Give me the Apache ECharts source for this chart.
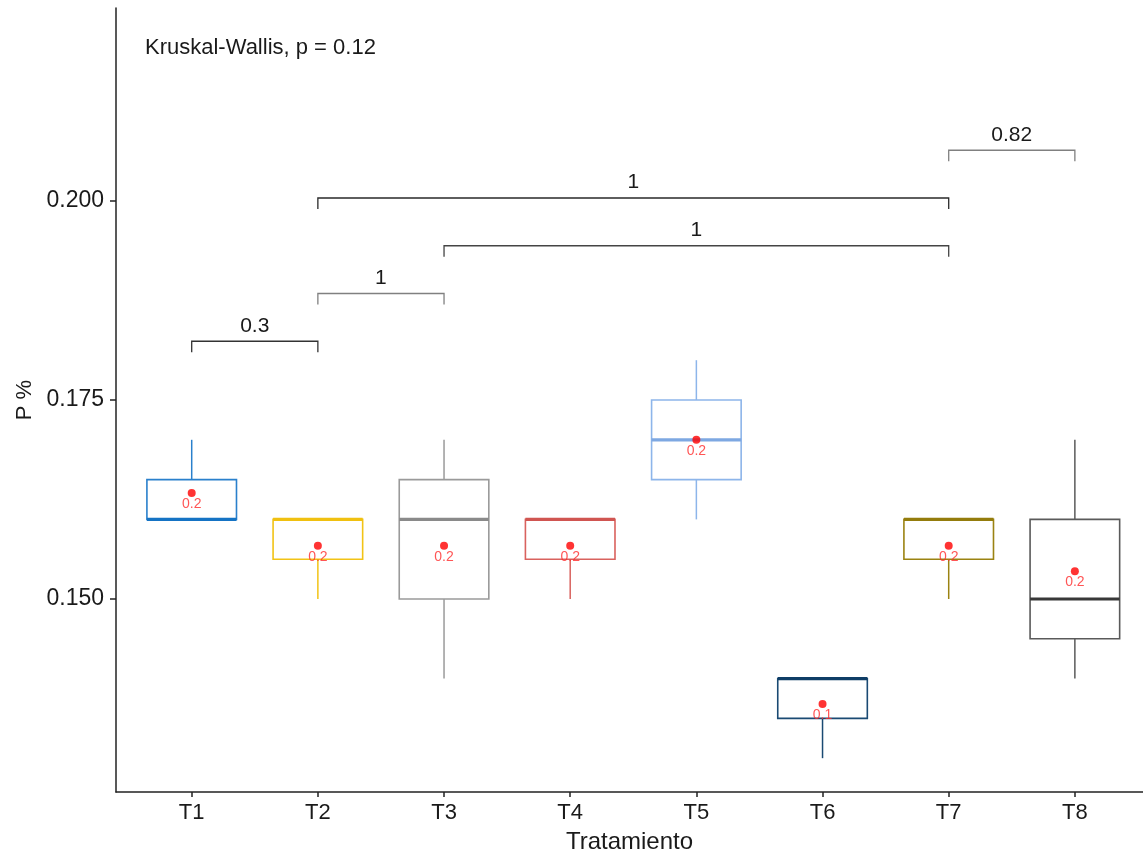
<!DOCTYPE html>
<html>
<head>
<meta charset="utf-8">
<script src="https://cdn.jsdelivr.net/npm/echarts@6/dist/echarts.min.js"></script>
<style>
  html, body { margin: 0; padding: 0; background: #fff; }
  #chart { width: 1143px; height: 859px; }
</style>
</head>
<body>
<div id="chart"></div>
<script>
// Treatments on the x axis (positions 1..8)
const categories = ['T1', 'T2', 'T3', 'T4', 'T5', 'T6', 'T7', 'T8'];

// Box statistics per treatment: lower whisker, Q1, median, Q3, upper whisker
const whiskerLow  = [0.160, 0.150, 0.140, 0.150, 0.160, 0.130, 0.150, 0.140];
const quartile1   = [0.160, 0.155, 0.150, 0.155, 0.165, 0.135, 0.155, 0.145];
const medians     = [0.160, 0.160, 0.160, 0.160, 0.170, 0.140, 0.160, 0.150];
const quartile3   = [0.165, 0.160, 0.165, 0.160, 0.175, 0.140, 0.160, 0.160];
const whiskerHigh = [0.170, 0.160, 0.170, 0.160, 0.180, 0.140, 0.160, 0.170];

// Group means (red dots, labelled to one decimal)
const means = [0.1633, 0.1567, 0.1567, 0.1567, 0.1700, 0.1368, 0.1567, 0.1535];

// Pairwise comparisons: from group, to group, bracket height, p-value label
const pairFrom   = [1, 2, 3, 2, 7];
const pairTo     = [2, 3, 7, 7, 8];
const pairY      = [0.18238, 0.18838, 0.19438, 0.20038, 0.20638];
const pairLabels = ['0.3', '1', '1', '1', '0.82'];

// Y axis tick values
const yTicks = [0.150, 0.175, 0.200];

const globalTest = 'Kruskal-Wallis, p = 0.12';

// Styling
const boxColors    = ['#2a80cc', '#f2c316', '#9a9a9a', '#d9625e', '#8db5ea', '#1a4a73', '#9b8312', '#5a5a5a'];
const medianColors = ['#1573c4', '#f0c010', '#8a8a8a', '#d05551', '#7ea8e2', '#0f3d66', '#947c0c', '#383838'];
const pairColors   = ['#333333', '#808080', '#444444', '#2a2a2a', '#808080'];
const FONT = '"Liberation Sans", Arial, Helvetica, sans-serif';

const positions = categories.map((_, i) => i + 1);
const boxData = positions.map((x, i) => [x, whiskerLow[i], quartile1[i], medians[i], quartile3[i], whiskerHigh[i]]);
const meanData = positions.map((x, i) => [x, means[i]]);
const pairData = pairFrom.map((f, i) => [f, pairTo[i], pairY[i]]);

const BOX_HALF = 0.355;

function renderBox(params, api) {
  const i = params.dataIndex;
  const x = api.value(0);
  const lo = api.value(1), q1 = api.value(2), med = api.value(3), q3 = api.value(4), hi = api.value(5);
  const color = boxColors[i];
  const tl = api.coord([x - BOX_HALF, q3]);
  const br = api.coord([x + BOX_HALF, q1]);
  const cx = api.coord([x, q1])[0];
  const yLo = api.coord([x, lo])[1];
  const yQ1 = br[1];
  const yQ3 = tl[1];
  const yHi = api.coord([x, hi])[1];
  const yMed = api.coord([x, med])[1];
  const children = [];
  if (hi > q3) {
    children.push({ type: 'line', shape: { x1: cx, y1: yQ3, x2: cx, y2: yHi }, style: { stroke: color, lineWidth: 1.5 } });
  }
  if (lo < q1) {
    children.push({ type: 'line', shape: { x1: cx, y1: yQ1, x2: cx, y2: yLo }, style: { stroke: color, lineWidth: 1.5 } });
  }
  children.push({
    type: 'rect',
    shape: { x: tl[0], y: tl[1], width: br[0] - tl[0], height: br[1] - tl[1] },
    style: { fill: '#ffffff', stroke: color, lineWidth: 1.6 }
  });
  children.push({
    type: 'line',
    shape: { x1: tl[0], y1: yMed, x2: br[0], y2: yMed },
    style: { stroke: medianColors[i], lineWidth: 3.2 }
  });
  return { type: 'group', children };
}

function renderPair(params, api) {
  const i = params.dataIndex;
  const p1 = api.coord([api.value(0), api.value(2)]);
  const p2 = api.coord([api.value(1), api.value(2)]);
  const tick = 11;
  const color = pairColors[i];
  return {
    type: 'group',
    children: [
      {
        type: 'polyline',
        shape: { points: [[p1[0], p1[1] + tick], [p1[0], p1[1]], [p2[0], p2[1]], [p2[0], p2[1] + tick]] },
        style: { stroke: color, lineWidth: 1.3, fill: null }
      },
      {
        type: 'text',
        x: (p1[0] + p2[0]) / 2,
        y: p1[1] - 5,
        style: { text: pairLabels[i], fill: '#1a1a1a', font: '21px ' + FONT, textAlign: 'center', textVerticalAlign: 'bottom' }
      }
    ]
  };
}

const chart = echarts.init(document.getElementById('chart'), null, { renderer: 'canvas' });

chart.setOption({
  animation: false,
  backgroundColor: '#ffffff',
  title: {
    text: globalTest,
    left: 140,
    top: 32,
    textStyle: { fontFamily: FONT, fontSize: 22, fontWeight: 'normal', color: '#1a1a1a' }
  },
  grid: { left: 116, right: 0, top: 8, bottom: 63, containLabel: false },
  xAxis: {
    type: 'value',
    min: 0.4,
    max: 8.54,
    name: 'Tratamiento',
    nameLocation: 'middle',
    nameGap: 38,
    nameTextStyle: { fontFamily: FONT, fontSize: 24, color: '#1a1a1a' },
    axisLine: { show: true, onZero: false, lineStyle: { color: '#222', width: 1.5 } },
    axisTick: { show: true, customValues: positions, length: 5, lineStyle: { color: '#222', width: 1.5 } },
    axisLabel: {
      customValues: positions,
      margin: 10,
      fontFamily: FONT, fontSize: 22, color: '#1a1a1a',
      formatter: v => categories[Math.round(v) - 1]
    },
    splitLine: { show: false }
  },
  yAxis: {
    type: 'value',
    min: 0.12575,
    max: 0.22425,
    name: 'P %',
    nameLocation: 'middle',
    nameRotate: 90,
    nameGap: 78,
    nameTextStyle: { fontFamily: FONT, fontSize: 22, color: '#1a1a1a' },
    axisLine: { show: true, onZero: false, lineStyle: { color: '#222', width: 1.5 } },
    axisTick: { show: true, customValues: yTicks, length: 6, lineStyle: { color: '#222', width: 1.5 } },
    axisLabel: {
      customValues: yTicks,
      margin: 12,
      fontFamily: FONT, fontSize: 23, color: '#1a1a1a',
      formatter: v => v.toFixed(3)
    },
    splitLine: { show: false }
  },
  series: [
    {
      type: 'custom',
      name: 'box',
      renderItem: renderBox,
      data: boxData,
      encode: { x: 0, y: [1, 2, 3, 4, 5] },
      z: 2
    },
    {
      type: 'scatter',
      name: 'mean',
      data: meanData,
      symbol: 'circle',
      symbolSize: 8,
      itemStyle: { color: '#ff0000' },
      label: {
        show: true,
        position: 'bottom',
        distance: 0,
        fontFamily: FONT,
        fontSize: 14,
        color: '#ff2a2a',
        formatter: p => p.value[1].toFixed(1)
      },
      z: 3
    },
    {
      type: 'custom',
      name: 'pairs',
      renderItem: renderPair,
      data: pairData,
      encode: { x: [0, 1], y: 2 },
      z: 4
    }
  ]
});
</script>
</body>
</html>
